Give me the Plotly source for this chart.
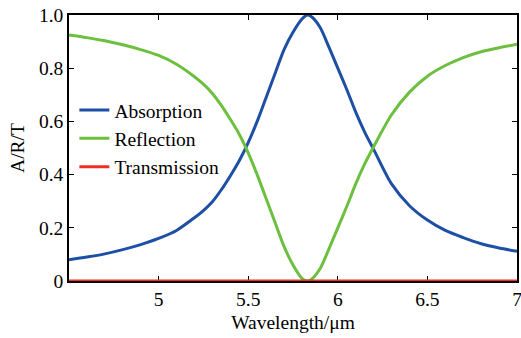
import plotly.graph_objects as go

wavelength = [4.5, 4.6, 4.7, 4.8, 4.9, 5.0, 5.1, 5.2, 5.25, 5.3, 5.35, 5.4, 5.45, 5.5, 5.55,
              5.6, 5.65, 5.7, 5.75, 5.8, 5.83, 5.85, 5.9, 5.95, 6.0, 6.05, 6.1, 6.15, 6.2,
              6.3, 6.4, 6.5, 6.6, 6.7, 6.8, 6.9, 7.0]
absorption = [0.080, 0.090, 0.102, 0.118, 0.137, 0.160, 0.190, 0.238, 0.265, 0.298, 0.343,
              0.395, 0.452, 0.520, 0.600, 0.690, 0.780, 0.870, 0.935, 0.985, 1.000, 0.995,
              0.955, 0.880, 0.800, 0.720, 0.635, 0.560, 0.495, 0.365, 0.283, 0.229, 0.190,
              0.163, 0.140, 0.124, 0.112]
reflection = [0.925, 0.915, 0.903, 0.888, 0.870, 0.848, 0.815, 0.768, 0.740, 0.705, 0.660,
              0.608, 0.552, 0.482, 0.400, 0.310, 0.220, 0.130, 0.060, 0.010, 0.000, 0.005,
              0.045, 0.120, 0.200, 0.280, 0.365, 0.440, 0.505, 0.625, 0.710, 0.770, 0.810,
              0.840, 0.862, 0.877, 0.890]
transmission = [0.0] * len(wavelength)

x_ticks = [5, 5.5, 6, 6.5, 7]
x_labels = ["5", "5.5", "6", "6.5", "7"]
y_ticks = [0, 0.2, 0.4, 0.6, 0.8, 1.0]
y_labels = ["0", "0.2", "0.4", "0.6", "0.8", "1.0"]

FONT = "Liberation Serif"

fig = go.Figure()
fig.add_trace(go.Scatter(x=wavelength, y=absorption, mode="lines", name="Absorption",
                         line=dict(color="#1E4FA6", width=3, shape="spline", smoothing=0.8),
                         cliponaxis=False))
fig.add_trace(go.Scatter(x=wavelength, y=reflection, mode="lines", name="Reflection",
                         line=dict(color="#6CBF3F", width=3, shape="spline", smoothing=0.8),
                         cliponaxis=False))
fig.add_trace(go.Scatter(x=wavelength, y=transmission, mode="lines", name="Transmission",
                         line=dict(color="#EE2F24", width=3), cliponaxis=False))

axis_common = dict(showgrid=False, zeroline=False, showline=True, linecolor="black",
                   linewidth=1.5, mirror="ticks", ticks="inside", ticklen=5,
                   tickwidth=1, tickcolor="black", layer="below traces", automargin=False,
                   ticklabeloverflow="allow",
                   tickfont=dict(family=FONT, size=19.5, color="black"))

fig.update_xaxes(range=[4.5, 7], tickvals=x_ticks, ticktext=x_labels,
                 title=dict(text="Wavelength/μm", font=dict(family=FONT, size=19.5, color="black"),
                            standoff=6),
                 **axis_common)
fig.update_yaxes(range=[0, 1], tickvals=y_ticks, ticktext=y_labels,
                 title=dict(text="A/R/T", font=dict(family=FONT, size=19.5, color="black"),
                            standoff=9),
                 **axis_common)

fig.update_layout(
    width=521, height=338,
    margin=dict(l=69, r=4, t=15, b=57),
    paper_bgcolor="white", plot_bgcolor="white",
    font=dict(family=FONT, size=19.5, color="black"),
    legend=dict(x=0.012, y=0.715, xanchor="left", yanchor="top",
                bgcolor="rgba(0,0,0,0)", itemwidth=30,
                font=dict(family=FONT, size=19.5, color="black"),
                tracegroupgap=0),
    showlegend=True,
)

# remove the browser's default 8px body margin so the figure fills the window
fig.write_html("out.html",
               config={"displayModeBar": False},
               post_script="document.body.style.margin='0';document.body.style.overflow='hidden';")
